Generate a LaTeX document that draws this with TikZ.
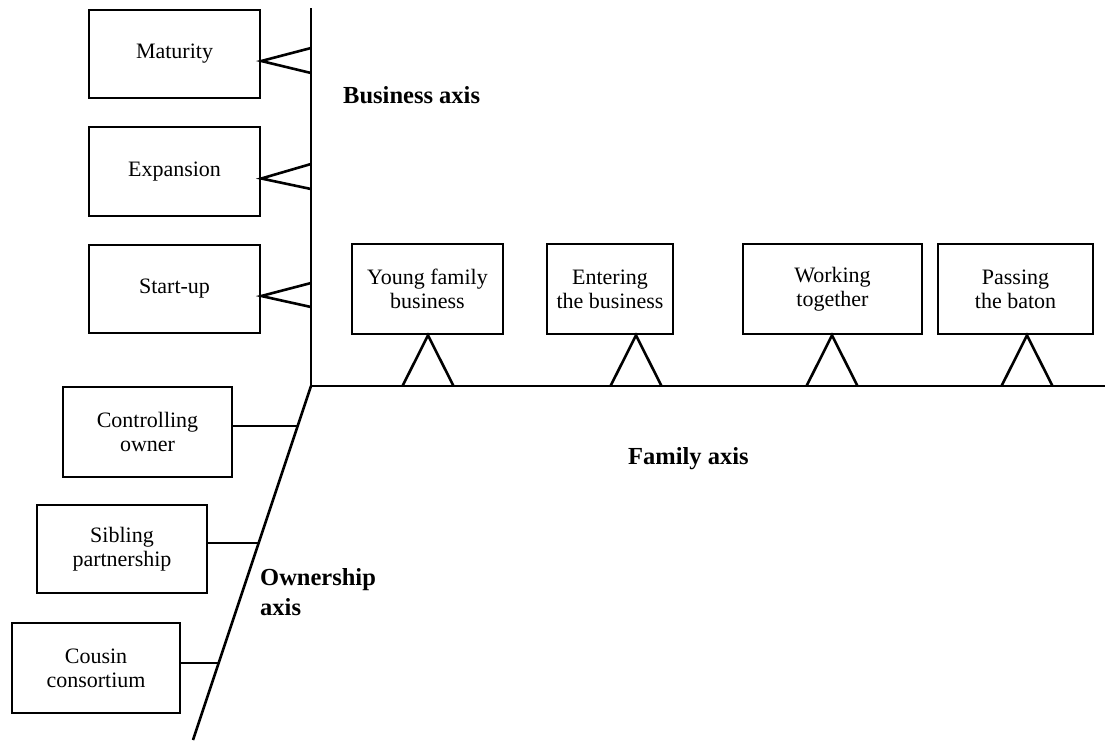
\documentclass[tikz,border=0pt]{standalone}
\usepackage{fontspec}
\setmainfont{Liberation Serif}
\usetikzlibrary{calc}
\begin{document}
\begin{tikzpicture}[x=1pt,y=-1pt,
  box/.style={draw,line width=2.6pt,align=center,inner sep=0pt,
    font=\fontsize{22}{24}\selectfont},
  conn/.style={line width=2.6pt,line join=miter},
  axislbl/.style={font=\fontsize{24.5}{30}\selectfont\bfseries,align=left,inner sep=0pt}]
\useasboundingbox (0,0) rectangle (1105,740);
% axes
\coordinate (top) at (311,8);
\coordinate (O) at (311,386);
\coordinate (right) at (1105,386);
\coordinate (bot) at (193,740);
\draw[conn] (top) -- (O) -- (right);
\draw[conn] (O) -- (bot);
% business boxes
\node[box,minimum width=171,minimum height=88] (mat) at (174.5,54) {\raisebox{-3pt}{Maturity}};
\node[box,minimum width=171,minimum height=89] (exp) at (174.5,171.5) {\raisebox{-3pt}{Expansion}};
\node[box,minimum width=171,minimum height=88] (stu) at (174.5,289) {\raisebox{-3pt}{Start-up}};
\foreach \n/\a/\b in {mat/48/73, exp/164/189, stu/283/307}{
  \coordinate (\n a) at (311,\a);
  \coordinate (\n b) at (311,\b);
  \draw[conn] (\n a) -- ($(\n.east)+(0,7)$) -- (\n b);
}
% family boxes
\node[box,minimum width=151,minimum height=90] (yfb) at (427.5,289) {Young family\\business};
\node[box,minimum width=126,minimum height=90] (etb) at (610,289) {Entering\\the business};
\node[box,minimum width=179,minimum height=90] (wto) at (832.5,289) {Working\\together};
\node[box,minimum width=155,minimum height=90] (ptb) at (1015.5,289) {Passing\\the baton};
\foreach \n/\d in {yfb/0.5, etb/26, wto/-0.5, ptb/11.5}{
  \coordinate (\n p) at ($(\n.south)+(\d,0)$);
  \coordinate (\n a) at ($(\n p |- O)+(-25.5,0)$);
  \coordinate (\n b) at ($(\n p |- O)+(25.5,0)$);
  \draw[conn] (\n a) -- (\n p) -- (\n b);
}
% ownership boxes
\node[box,minimum width=169,minimum height=90] (cow) at (147.5,432) {Controlling\\owner};
\node[box,minimum width=170,minimum height=88] (sib) at (122,549) {Sibling\\partnership};
\node[box,minimum width=168,minimum height=90] (cou) at (96,668) {Cousin\\consortium};
\coordinate (cowd) at (297.7,426);
\coordinate (sibd) at (258.7,543);
\coordinate (coud) at (218.7,663);
\draw[conn] (cow.east |- cowd) -- (cowd);
\draw[conn] (sib.east |- sibd) -- (sibd);
\draw[conn] (cou.east |- coud) -- (coud);
% axis labels
\node[axislbl,anchor=base west] (bax) at (343,103) {Business axis};
\node[axislbl,anchor=base west] (fax) at (628,464) {Family axis};
\node[axislbl,anchor=base west] (oax) at (260,615) {Ownership\\axis};
\end{tikzpicture}
\end{document}
